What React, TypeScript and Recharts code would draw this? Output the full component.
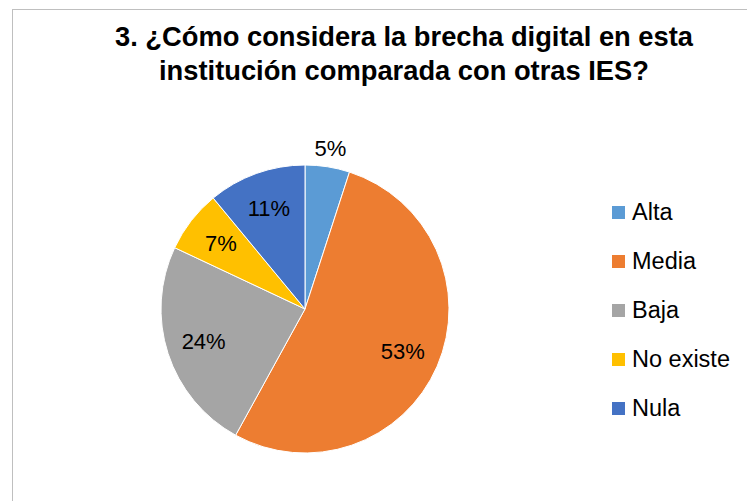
import { PieChart, Pie, Cell, Legend } from 'recharts';

const CATEGORIES = ['Alta', 'Media', 'Baja', 'No existe', 'Nula'];
const VALUES = [5, 53, 24, 7, 11];
const COLORS = ['#5B9BD5', '#ED7D31', '#A5A5A5', '#FFC000', '#4472C4'];
const TITLE_LINES = ['3. ¿Cómo considera la brecha digital en esta', 'institución comparada con otras IES?'];

const FONT = '"Liberation Sans", Arial, sans-serif';
const RAD = Math.PI / 180;

const data = CATEGORIES.map((name, i) => ({ name, value: VALUES[i] }));
const total = VALUES.reduce((a, b) => a + b, 0);

const renderLabel = (props: any) => {
  const { cx, cy, midAngle, outerRadius, value } = props;
  const pct = value / total;
  const r = pct < 0.06 ? outerRadius + 18 : outerRadius * 0.74;
  const x = cx + r * Math.cos(-midAngle * RAD);
  const y = cy + r * Math.sin(-midAngle * RAD);
  return (
    <text x={x} y={y} fill="#000" textAnchor="middle" dominantBaseline="central" fontSize={22} fontFamily={FONT}>
      {Math.round(pct * 100)}%
    </text>
  );
};

const renderLegend = () => (
  <div style={{ fontFamily: FONT }}>
    {CATEGORIES.map((c, i) => (
      <div key={c} style={{ display: 'flex', alignItems: 'center', height: 49 }}>
        <div style={{ width: 13, height: 13, background: COLORS[i], marginRight: 7 }} />
        <span style={{ fontSize: 23.5, color: '#000' }}>{c}</span>
      </div>
    ))}
  </div>
);

export default function App() {
  return (
    <div style={{ position: 'fixed', left: 0, top: 0, width: 747, height: 501, background: '#fff', overflow: 'hidden' }}>
      <div style={{ position: 'absolute', left: 12, top: 9, width: 800, height: 600, border: '1px solid #bfbfbf' }} />
      <div style={{ position: 'absolute', left: 0, top: 20, width: 808, textAlign: 'center', fontFamily: FONT, fontWeight: 'bold', fontSize: 27.3, lineHeight: '34px', color: '#000' }}>
        {TITLE_LINES.map((t) => (
          <div key={t}>{t}</div>
        ))}
      </div>
      <div style={{ position: 'absolute', left: 0, top: 0 }}>
        <PieChart width={747} height={501} margin={{ top: 0, right: 0, bottom: 0, left: 0 }}>
          <Pie
            data={data}
            dataKey="value"
            nameKey="name"
            cx={305}
            cy={309}
            outerRadius={144}
            startAngle={90}
            endAngle={-270}
            stroke="#fff"
            strokeWidth={1}
            label={renderLabel}
            labelLine={false}
            isAnimationActive={false}
          >
            {data.map((d, i) => (
              <Cell key={d.name} fill={COLORS[i]} />
            ))}
          </Pie>
          <Legend
            content={renderLegend}
            layout="vertical"
            wrapperStyle={{ position: 'absolute', left: 612, top: 188, width: 140 }}
          />
        </PieChart>
      </div>
    </div>
  );
}
